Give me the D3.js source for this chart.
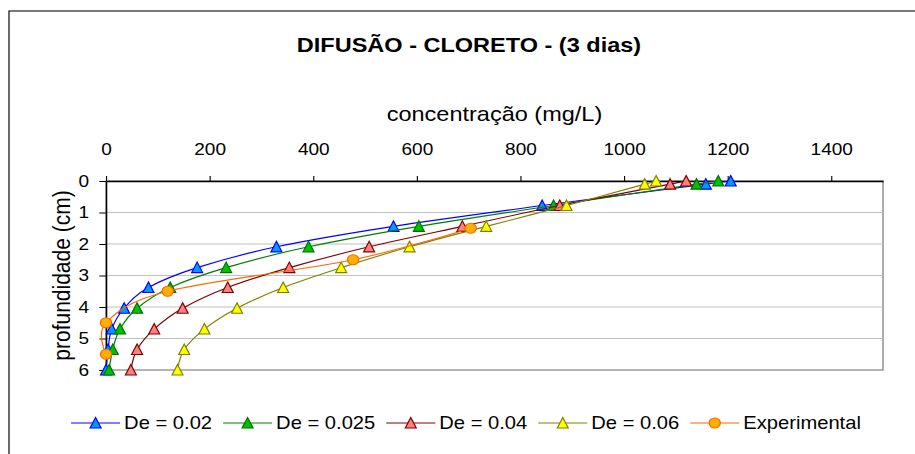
<!DOCTYPE html>
<html>
<head>
<meta charset="utf-8">
<script src="https://cdn.jsdelivr.net/npm/d3@7"></script>
<style>
  body { margin: 0; background: #fff; }
  svg { display: block; font-family: "Liberation Sans", Arial, sans-serif; }
</style>
</head>
<body>
<div id="chart"></div>
<script>
// Données
const depths = [0, 0.1, 0.78, 1.44, 2.09, 2.75, 3.38, 4.04, 4.7, 5.35, 6];
const de002  = [1206, 1158, 842, 555, 329, 176, 82, 35, 11, 4, 0];
const de0025 = [1182, 1140, 864, 604, 391, 232, 124, 60, 27, 13, 6];
const de004  = [1120, 1089, 876, 688, 508, 354, 235, 148, 93, 60, 48];
const de006  = [1062, 1040, 889, 734, 586, 454, 342, 253, 190, 151, 138];
const expDepths = [1.5, 2.5, 3.5, 4.5, 5.5];
const expConc   = [704, 477, 119, 0, 0];

const seriesNames = ["De = 0.02", "De = 0.025", "De = 0.04", "De = 0.06", "Experimental"];
const xTicks = [0, 200, 400, 600, 800, 1000, 1200, 1400];
const yTicks = [0, 1, 2, 3, 4, 5, 6];

//---------------------------------------------------------------------------------------

// Le graphique d'origine est étiré horizontalement : on dessine dans un repère
// logique puis on étire le groupe principal
const width = 915;
const height = 454;
const sx = 1.12;

const plotLeft = 106 / sx, plotRight = 883 / sx, plotTop = 181, plotBottom = 370;

const svg = d3.select("#chart")
    .append("svg")
    .attr("width", width)
    .attr("height", height);

const g = svg.append("g")
    .attr("transform", `scale(${sx},1)`);

// cadre extérieur
g.append("rect")
    .attr("x", 9 / sx)
    .attr("y", 11)
    .attr("width", 2000)
    .attr("height", 1000)
    .attr("fill", "none")
    .attr("stroke", "#333")
    .attr("stroke-width", 1.3);

const x = d3.scaleLinear().domain([0, 1500]).range([plotLeft, plotRight]);
const y = d3.scaleLinear().domain([0, 6]).range([plotTop, plotBottom]);

// zone du graphique
g.append("rect")
    .attr("x", plotLeft)
    .attr("y", plotTop)
    .attr("width", plotRight - plotLeft)
    .attr("height", plotBottom - plotTop)
    .attr("fill", "#fff")
    .attr("stroke", "#8c8c8c")
    .attr("stroke-width", 1.3);

// quadrillage horizontal
g.append("g")
    .selectAll("line")
    .data(yTicks.filter(d => d > 0 && d < 6))
    .join("line")
    .attr("x1", plotLeft)
    .attr("x2", plotRight)
    .attr("y1", d => y(d))
    .attr("y2", d => y(d))
    .attr("stroke", "#c0c0c0")
    .attr("stroke-width", 1);

// axe des x (en haut)
const xAxis = g.append("g")
    .attr("transform", `translate(0,${plotTop})`)
    .call(d3.axisTop(x).tickValues(xTicks).tickFormat(d3.format("d"))
        .tickSize(5).tickSizeOuter(0).tickPadding(21));

// axe des y
const yAxis = g.append("g")
    .attr("transform", `translate(${plotLeft},0)`)
    .call(d3.axisLeft(y).tickValues(yTicks).tickFormat(d3.format("d"))
        .tickSize(6).tickSizeOuter(0).tickPadding(9));

[xAxis, yAxis].forEach(a => {
    a.select(".domain").attr("stroke", "#000").attr("stroke-width", 1.3);
    a.selectAll(".tick line").attr("stroke", "#000");
    a.selectAll(".tick text")
        .attr("font-size", "17px")
        .attr("font-family", "Liberation Sans, Arial, sans-serif")
        .attr("fill", "#000");
});

// titres
g.append("text")
    .attr("x", 469 / sx)
    .attr("y", 52)
    .attr("text-anchor", "middle")
    .attr("font-size", "21px")
    .attr("font-weight", "bold")
    .text("DIFUSÃO - CLORETO - (3 dias)");

g.append("text")
    .attr("x", (plotLeft + plotRight) / 2)
    .attr("y", 121)
    .attr("text-anchor", "middle")
    .attr("font-size", "21px")
    .text("concentração (mg/L)");

g.append("text")
    .attr("transform", `translate(${70 / sx},${(plotTop + plotBottom) / 2}) rotate(-90)`)
    .attr("text-anchor", "middle")
    .attr("font-size", "21px")
    .text("profundidade (cm)");

//---------------------------------------------------------------------------------------

// Séries
const triangle = "M0,-5.5L4.9,5L-4.9,5Z";

const series = [
    { name: seriesNames[0], line: "#0000ff", fill: "#0099ff", stroke: "#0000ff", shape: "tri",
      pts: depths.map((d, i) => [de002[i], d]) },
    { name: seriesNames[1], line: "#008000", fill: "#00c000", stroke: "#007000", shape: "tri",
      pts: depths.map((d, i) => [de0025[i], d]) },
    { name: seriesNames[2], line: "#800000", fill: "#ff8080", stroke: "#800000", shape: "tri",
      pts: depths.map((d, i) => [de004[i], d]) },
    { name: seriesNames[3], line: "#808000", fill: "#ffff00", stroke: "#808000", shape: "tri",
      pts: depths.map((d, i) => [de006[i], d]) },
    { name: seriesNames[4], line: "#ff6600", fill: "#ffb000", stroke: "#ff6600", shape: "circle",
      pts: expDepths.map((d, i) => [expConc[i], d]) }
];

const line = d3.line()
    .x(d => x(d[0]))
    .y(d => y(d[1]))
    .curve(d3.curveCardinal.tension(0));

function drawMarker(sel, s) {
    if (s.shape === "tri") {
        sel.append("path").attr("d", triangle);
    } else {
        sel.append("circle").attr("r", 5);
    }
    sel.selectAll("path, circle")
        .attr("fill", s.fill)
        .attr("stroke", s.stroke)
        .attr("stroke-width", 1.1);
}

series.forEach(s => {
    const sg = g.append("g");
    sg.append("path")
        .datum(s.pts)
        .attr("d", line)
        .attr("fill", "none")
        .attr("stroke", s.line)
        .attr("stroke-width", 1.1);
    sg.selectAll("g.mk")
        .data(s.pts)
        .join("g")
        .attr("class", "mk")
        .attr("transform", d => `translate(${x(d[0])},${y(d[1])})`)
        .each(function () { drawMarker(d3.select(this), s); });
});

//---------------------------------------------------------------------------------------

// Légende
const legendY = 423;
const lineLen = 49 / sx, gapText = 4 / sx, gapItem = 11 / sx;
const legend = g.append("g");

let cursor = 0;
series.forEach(s => {
    const item = legend.append("g").attr("transform", `translate(${cursor},${legendY})`);
    item.append("line")
        .attr("x1", 0).attr("x2", lineLen)
        .attr("stroke", s.line)
        .attr("stroke-width", 1.1);
    const mk = item.append("g").attr("transform", `translate(${lineLen / 2},0)`);
    drawMarker(mk, s);
    const t = item.append("text")
        .attr("x", lineLen + gapText)
        .attr("dy", "0.35em")
        .attr("font-size", "18px")
        .text(s.name);
    cursor += lineLen + gapText + t.node().getComputedTextLength() + gapItem;
});
cursor -= gapItem;
legend.attr("transform", `translate(${466 / sx - cursor / 2},0)`);
</script>
</body>
</html>
